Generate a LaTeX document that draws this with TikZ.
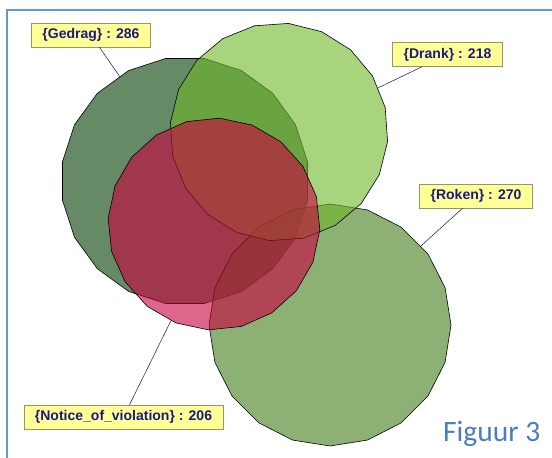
\documentclass[tikz,border=0pt]{standalone}
\usepackage{fontspec}
\usetikzlibrary{shapes.geometric}
\newfontfamily\tagfamily{Liberation Sans}
\newfontfamily\captionfamily{Carlito}
\definecolor{gedragcol}{RGB}{0,60,0}
\definecolor{drankcol}{RGB}{110,183,40}
\definecolor{rokencol}{RGB}{65,125,25}
\definecolor{noticecol}{RGB}{200,0,60}
\definecolor{tagfill}{RGB}{255,255,150}
\definecolor{tagborder}{RGB}{150,150,100}
\definecolor{tagtext}{RGB}{25,25,130}
\definecolor{framecol}{RGB}{100,150,215}
\definecolor{captioncol}{RGB}{74,124,192}
\tikzset{
    venn/.style = {regular polygon, regular polygon sides = 20, inner sep = 0,
        draw = black, line width = 0.6pt, fill opacity = 0.6},
    setlabel/.style = {draw = tagborder, fill = tagfill, text = tagtext,
        font = \tagfamily\bfseries\fontsize{14}{16}\selectfont,
        minimum height = 24pt, inner xsep = 11pt, inner ysep = 0pt},
    pointer/.style = {draw = tagtext!70!black, line width = 0.5pt}
}

\begin{document}
\begin{tikzpicture}[x = 1pt, y = -1pt]
    \useasboundingbox (0, 0) rectangle (552, 458);
    \draw[framecol, line width = 1.2pt] (7, 458) -- (7, 10) -- (552, 10);

    \node[venn, fill = gedragcol, minimum size = 248pt] (gedrag) at (185, 181) {};
    \node[venn, fill = rokencol, minimum size = 242pt, shape border rotate = 9] (roken) at (330, 325) {};
    \node[venn, fill = drankcol, minimum size = 218pt, shape border rotate = 4] (drank) at (279, 132) {};
    \node[venn, fill = noticecol, minimum size = 212pt, shape border rotate = 6] (notice) at (214, 224) {};

    \node[setlabel] (lblGedrag) at (91, 35) {\{Gedrag\} : 286};
    \node[setlabel] (lblDrank) at (447.5, 54.5) {\{Drank\} : 218};
    \node[setlabel] (lblRoken) at (476, 196) {\{Roken\} : 270};
    \node[setlabel] (lblNotice) at (123.5, 417) {\{Notice\_of\_violation\} : 206};

    \draw[pointer] (gedrag.122) -- (lblGedrag);
    \draw[pointer] (drank.24) -- (lblDrank);
    \draw[pointer] (roken.41) -- (lblRoken);
    \draw[pointer] (notice.246) -- (lblNotice);

    \node[anchor = base west, text = captioncol, font = \captionfamily\fontsize{29.5}{34}\selectfont,
        inner sep = 0] (caption) at (443, 441) {Figuur 3};
\end{tikzpicture}
\end{document}
